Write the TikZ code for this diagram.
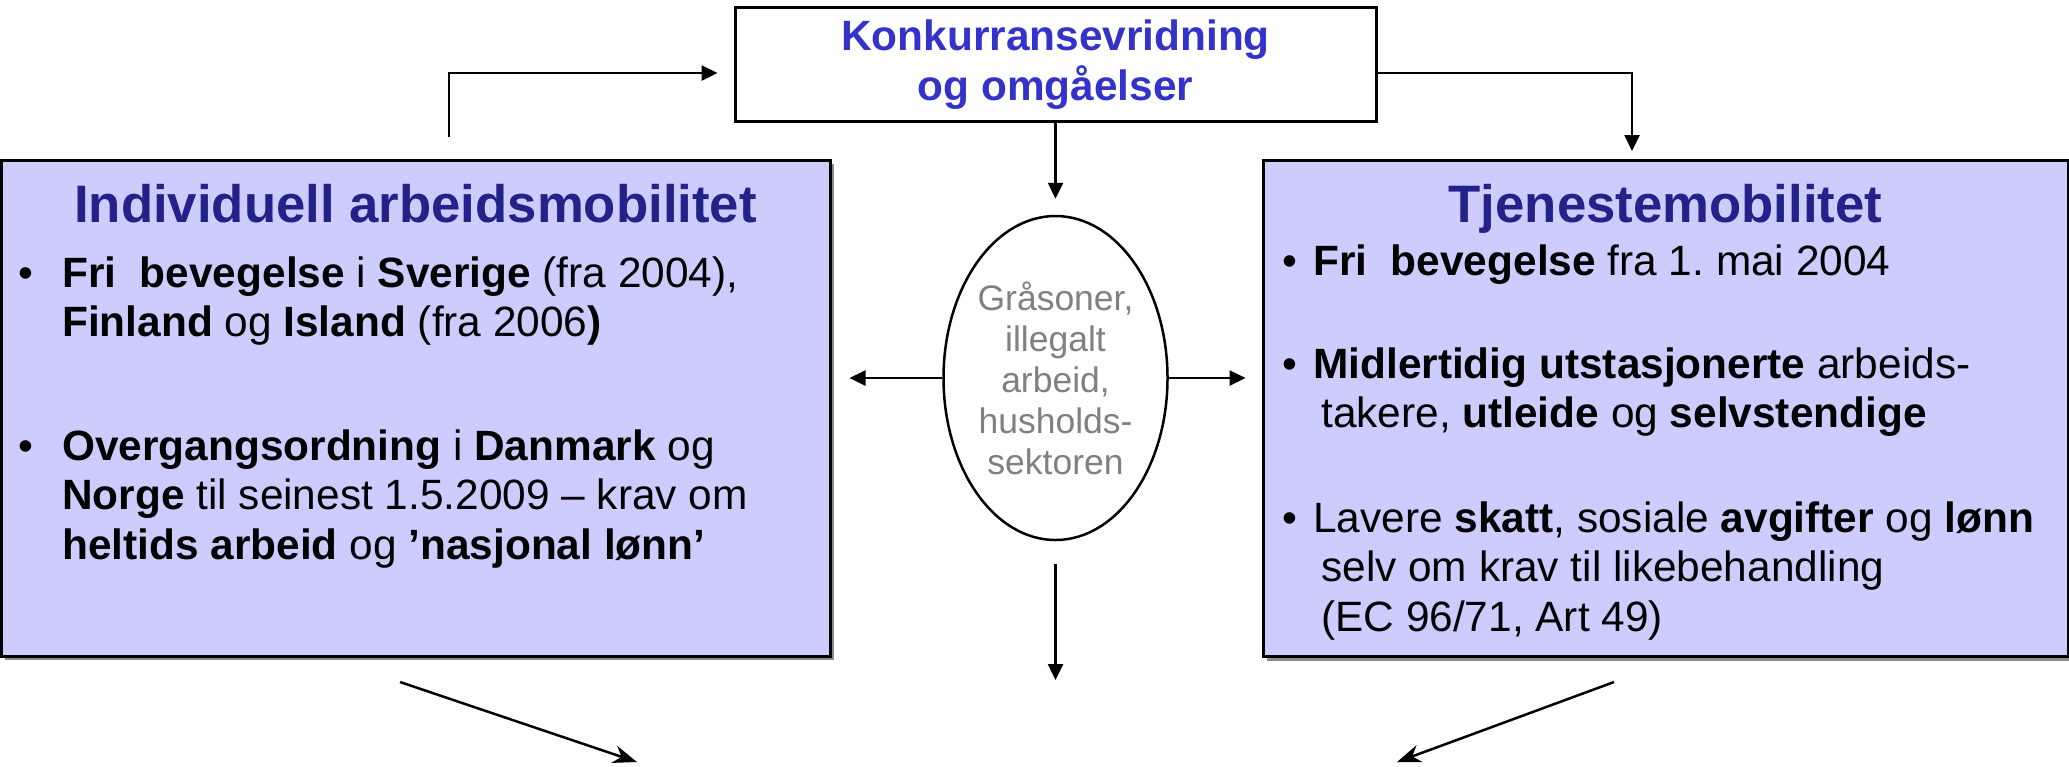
\documentclass[tikz,border=0pt]{standalone}
\usepackage{fontspec}
\setmainfont{Liberation Sans}
\usetikzlibrary{arrows.meta, positioning, shapes.geometric, shadows}
\definecolor{boxfill}{HTML}{CCCCFF}
\definecolor{titleblue}{HTML}{222288}
\definecolor{konkblue}{HTML}{3333CC}
\definecolor{greytext}{HTML}{808080}
\frenchspacing
\tikzstyle{diagram}=[x=0.1mm, y=-0.1mm, >={Triangle[length=1.6mm,width=1.5mm]}, line width=0.25mm]
\tikzstyle{mobbox}=[draw, line width=0.3mm, fill=boxfill, minimum height=49.6mm, drop shadow={shadow xshift=0.4mm, shadow yshift=-0.4mm, fill=black!45, opacity=1}]
\tikzstyle{headtext}=[anchor=base, inner sep=0pt, text=titleblue, font=\fontsize{15}{18}\selectfont\bfseries]
\tikzstyle{bodytext}=[anchor=base west, inner sep=0pt, font=\fontsize{12.06}{14.2}\selectfont]
\tikzstyle{diag}=[-{Stealth[length=2.4mm,width=1.8mm]}]

\begin{document}
\begin{tikzpicture}[diagram]
  \useasboundingbox (0,0) rectangle (2069,766);
  % the two boxes and what sits between them
  \node[mobbox, minimum width=82.9mm] (indiv) at (415.5,408) {};
  \node[mobbox, minimum width=80.5mm] (tjen) at (1665.5,408.5) {};
  \node[draw, line width=0.3mm, fill=white, minimum width=64.1mm, minimum height=11.1mm, align=center,
        text=konkblue, font=\fontsize{12.06}{14.2}\selectfont\bfseries] (konk) at (1055.5,64.5)
        {Konkurransevridning\\og omgåelser};
  \node[ellipse, draw, fill=white, minimum width=22.4mm, minimum height=32.4mm, inner sep=0pt, align=center,
        text=greytext, font=\fontsize{10.1}{11.67}\selectfont] (graa) at (1055.5,378)
        {Gråsoner,\\illegalt\\arbeid,\\husholds-\\sektoren};

  \node[headtext] (indivtitle) at (415.5,222) {Individuell arbeidsmobilitet};
  \node[headtext] (tjentitle) at (1665.5,222) {Tjenestemobilitet};

  \node[bodytext] (fri) at (17.6,287) {\begin{tabular}[t]{@{}p{4.34mm}@{}l@{}}
    \textbullet & \textbf{Fri\ \ bevegelse} i \textbf{Sverige} (fra 2004),\\
    & \textbf{Finland} og \textbf{Island} (fra 2006\textbf{)}\end{tabular}};
  \node[bodytext] (overgang) at (17.6,460) {\begin{tabular}[t]{@{}p{4.34mm}@{}l@{}}
    \textbullet & \textbf{Overgangsordning} i \textbf{Danmark} og\\
    & \textbf{Norge} til seinest 1.5.2009 -- krav om\\
    & \textbf{heltids arbeid} og \textbf{'nasjonal lønn'}\end{tabular}};

  \node[bodytext] (frir) at (1281.6,275) {\begin{tabular}[t]{@{}p{3.04mm}@{}l@{}}
    \textbullet & \textbf{Fri\ \ bevegelse} fra 1. mai 2004\end{tabular}};
  \node[bodytext] (midl) at (1281.6,378) {\begin{tabular}[t]{@{}p{3.04mm}@{}l@{}}
    \textbullet & \textbf{Midlertidig utstasjonerte} arbeids-\\
    & \hspace{0.8mm}takere, \textbf{utleide} og \textbf{selvstendige}\end{tabular}};
  \node[bodytext] (lavere) at (1281.6,532) {\begin{tabular}[t]{@{}p{3.04mm}@{}l@{}}
    \textbullet & Lavere \textbf{skatt}, sosiale \textbf{avgifter} og \textbf{lønn}\\
    & \hspace{0.8mm}selv om krav til likebehandling\\
    & \hspace{0.8mm}(EC 96/71, Art 49)\end{tabular}};

  % free ends
  \coordinate (lstart) at (449,137);
  \coordinate (cbot) at (1055.5,680);
  \coordinate (lfrom) at (400,682);
  \coordinate (lto) at (637,762);
  \coordinate (rfrom) at (1614,682);
  \coordinate (rto) at (1397,762);

  \draw[->, shorten >=1.6mm] (lstart) |- ([yshift=-0.85mm]konk.west);
  \draw[->, shorten >=0.8mm] ([yshift=-0.85mm]konk.east) -| ([xshift=-3.35mm]tjen.north);
  \path[->] (konk.south) edge[shorten >=1.6mm] (graa.north);
  \path[->] (graa.west) edge[shorten >=1.8mm] (graa.west -| indiv.east);
  \path[->] (graa.east) edge[shorten >=1.6mm] (graa.east -| tjen.west);
  \path[->] (graa.south) edge[shorten <=2.3mm] (cbot);
  \path[diag] (lfrom) edge (lto);
  \path[diag] (rfrom) edge (rto);
\end{tikzpicture}
\end{document}
